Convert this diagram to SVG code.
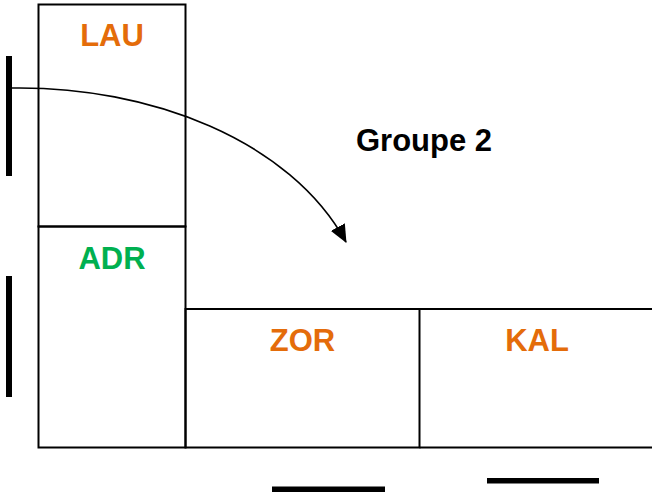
<svg xmlns="http://www.w3.org/2000/svg" width="652" height="495" viewBox="0 0 652 495">
<style>
.box{fill:none;stroke:#000;stroke-width:2}
.bar{fill:#000}
.lbl{font-family:"Liberation Sans",Arial,sans-serif;font-weight:bold;font-size:31px;text-anchor:middle}
.or{fill:#E46C0A}
.gr{fill:#00B050}
.conn{fill:none;stroke:#000;stroke-width:1.6}
</style>
<defs>
<marker id="ah" markerUnits="userSpaceOnUse" markerWidth="18" markerHeight="16" viewBox="0 0 18 16" refX="17" refY="8" orient="auto">
<path d="M0,0 L18,8 L0,16 Z" fill="#000"/>
</marker>
</defs>
<rect width="652" height="495" fill="#fff"/>
<g id="LAU">
<rect class="box" x="38.5" y="4.5" width="147" height="222"/>
<text class="lbl or" x="112" y="46">LAU</text>
</g>
<g id="ADR">
<rect class="box" x="38.5" y="226.5" width="147" height="221"/>
<text class="lbl gr" x="112" y="269">ADR</text>
</g>
<g id="ZOR">
<rect class="box" x="185.5" y="309" width="234" height="138.5"/>
<text class="lbl or" x="302.5" y="350.5">ZOR</text>
</g>
<g id="KAL">
<path class="box" d="M419.5,309 H655 M419.5,447.5 H655"/>
<text class="lbl or" x="537" y="350.5">KAL</text>
</g>
<g id="Groupe2">
<text class="lbl" x="356" y="151" style="text-anchor:start">Groupe 2</text>
</g>
<g id="bars">
<rect class="bar" x="6" y="56" width="6" height="120"/>
<rect class="bar" x="6" y="276" width="6" height="121"/>
<rect class="bar" x="272" y="486.5" width="113" height="5.5"/>
<rect class="bar" x="487" y="478" width="112" height="5.5"/>
</g>
<g id="connectors">
<path class="conn" d="M12,88 C150,86 290,140 346,242" marker-end="url(#ah)"/>
</g>
</svg>
